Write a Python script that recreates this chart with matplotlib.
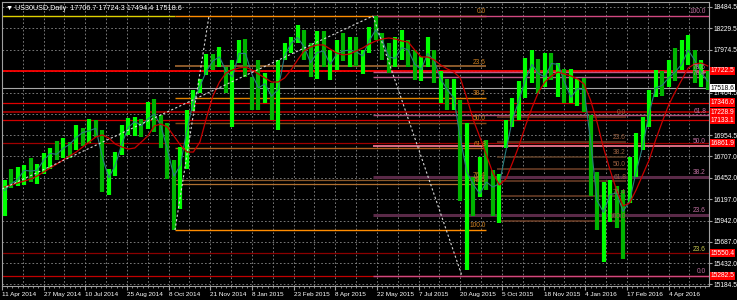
"""US30USD daily chart, MT4 style: weekly bars, two MAs, fib levels and price lines."""
import numpy as np
import matplotlib
matplotlib.use("Agg")
import matplotlib.pyplot as plt
from matplotlib.transforms import blended_transform_factory

plt.rcParams["font.family"] = ["Liberation Sans", "DejaVu Sans"]

# weekly high / low / close, 11 Apr 2014 .. May 2016
highs = [
    16420, 16560, 16580, 16600, 16680, 16620, 16740, 16800, 16890, 16920,
    16880, 17080, 17040, 17150, 17140, 17020, 16560, 16760, 17080, 17160,
    17170, 17150, 17350, 17390, 17200, 17100, 16660, 16820, 17260, 17500,
    17620, 17920, 17920, 18010, 17770, 17850, 18090, 18100, 17650, 17850,
    17700, 17580, 17850, 18050, 18130, 18270, 18210, 18050, 18200, 18200,
    17970, 18090, 18170, 18130, 18130, 17970, 18240, 18376, 18170, 18050,
    18130, 18210, 18090, 17970, 17890, 18130, 17970, 17720, 17620, 17620,
    17380, 17100, 16460, 16700, 16900, 16540, 16500, 17140, 17400, 17600,
    17870, 17970, 17860, 17930, 17930, 17820, 17740, 17740, 17620, 17640,
    17200, 16520, 16400, 16420, 16350, 16300, 16700, 16980, 17170, 17500,
    17730, 17720, 17850, 17990, 18090, 18150, 17970, 17850, 17724.3,
]
lows = [
    15990, 16330, 16350, 16360, 16400, 16380, 16500, 16560, 16660, 16690,
    16680, 16780, 16830, 16860, 16930, 16280, 16240, 16470, 16720, 16960,
    16950, 16930, 17030, 17000, 16800, 16440, 15830, 16080, 16560, 17240,
    17460, 17670, 17730, 17770, 17460, 17050, 17820, 17650, 17260, 17260,
    17340, 17140, 17020, 17850, 17940, 18060, 17850, 17650, 17620, 17770,
    17610, 17730, 17840, 17770, 17780, 17690, 17930, 18090, 17850, 17700,
    17770, 17850, 17770, 17610, 17600, 17770, 17580, 17340, 17260, 17260,
    16180, 15350, 15990, 16220, 16300, 15990, 15910, 16800, 17050, 17140,
    17400, 17580, 17460, 17530, 17610, 17410, 17340, 17340, 17310, 17230,
    16230, 15830, 15450, 15930, 15850, 15480, 16150, 16460, 16780, 17050,
    17410, 17420, 17530, 17600, 17730, 17790, 17580, 17530, 17494.4,
]
closes = [
    16400, 16360, 16510, 16580, 16480, 16600, 16720, 16760, 16700, 16900,
    16800, 17060, 16930, 17100, 16980, 16400, 16500, 16700, 17000, 17100,
    17140, 17000, 17300, 17120, 17020, 16550, 16390, 16800, 17250, 17480,
    17600, 17850, 17830, 17950, 17500, 17800, 18060, 17800, 17550, 17500,
    17650, 17200, 17800, 18000, 18100, 18150, 17880, 17760, 18120, 17800,
    17800, 18050, 17880, 18060, 17850, 17950, 18220, 18200, 17980, 17800,
    17950, 18050, 17900, 17700, 17780, 18080, 17600, 17650, 17350, 17450,
    16400, 16640, 16100, 16430, 16380, 16300, 16470, 17080, 17200, 17550,
    17700, 17900, 17480, 17830, 17800, 17800, 17380, 17450, 17580, 17420,
    16380, 15980, 16100, 16400, 16150, 15950, 16400, 16650, 17000, 17450,
    17600, 17500, 17780, 17650, 17950, 18000, 17700, 17700, 17518.6,
]
ma_fast = [
    16300, 16380, 16430, 16540, 16530, 16540, 16660, 16740, 16730, 16800,
    16850, 16930, 16990, 17010, 17040, 16700, 16450, 16600, 16850, 17050,
    17120, 17070, 17150, 17210, 17070, 16790, 16470, 16600, 17020, 17360,
    17540, 17720, 17840, 17890, 17720, 17650, 17930, 17930, 17680, 17520,
    17570, 17420, 17500, 17900, 18050, 18120, 18010, 17820, 17940, 17960,
    17800, 17920, 17960, 17970, 17950, 17900, 18080, 18210, 18090, 17890,
    17870, 18000, 17970, 17800, 17740, 17930, 17840, 17620, 17500, 17400,
    16920, 16520, 16370, 16260, 16400, 16340, 16380, 16770, 17140, 17370,
    17620, 17800, 17690, 17650, 17810, 17800, 17590, 17410, 17510, 17500,
    16900, 16180, 16040, 16250, 16270, 16050, 16170, 16520, 16820, 17220,
    17520, 17550, 17640, 17710, 17800, 17970, 17850, 17700, 17600,
]
ma_slow = [
    16341, 16365, 16388, 16412, 16436, 16472, 16519, 16567, 16614, 16662,
    16710, 16757, 16817, 16876, 16936, 16960, 16924, 16852, 16817, 16793,
    16805, 16876, 16948, 17067, 17090, 17055, 16948, 16840, 16757, 16757,
    16876, 17162, 17424, 17590, 17697, 17733, 17757, 17769, 17733, 17685,
    17638, 17590, 17590, 17638, 17733, 17852, 17959, 18007, 18031, 18031,
    17983, 17935, 17912, 17923, 17959, 17995, 18042, 18078, 18102, 18114,
    18102, 18078, 18066, 17971, 17888, 17888, 17852, 17792, 17745, 17709,
    17638, 17400, 17138, 16936, 16722, 16507, 16365, 16436, 16626, 16829,
    17067, 17281, 17471, 17590, 17662, 17709, 17685, 17662, 17626, 17566,
    17376, 17114, 16805, 16543, 16305, 16115, 16150, 16305, 16483, 16662,
    16900, 17114, 17316, 17471, 17614, 17757, 17804, 17816, 17781,
]

date_labels = [
    "11 Apr 2014", "27 May 2014", "10 Jul 2014", "25 Aug 2014", "8 Oct 2014",
    "21 Nov 2014", "8 Jan 2015", "23 Feb 2015", "8 Apr 2015", "22 May 2015",
    "7 Jul 2015", "20 Aug 2015", "5 Oct 2015", "18 Nov 2015", "4 Jan 2016",
    "17 Feb 2016", "4 Apr 2016",
]
price_ticks = [18484.5, 18229.5, 17974.5, 17719.5, 17464.5, 17209.5, 16954.5,
               16707.0, 16452.0, 16197.0, 15942.0, 15687.0, 15432.0, 15184.5]
# grid values whose labels sit under a price box in the reference
hidden_ticks = [17719.5, 17209.5]

# horizontal price lines (value, colour, width)
hlines = [(17722.5, "#ff0000", 1.3), (17346.0, "#e00000", 0.9),
          (17228.9, "#a00000", 1.3), (17133.1, "#d00000", 0.9),
          (16861.9, "#a00000", 0.9), (15550.4, "#8a0000", 0.9),
          (15282.5, "#c00000", 0.9)]

fib_levels = [0.0, 23.6, 38.2, 50.0, 61.8, 76.4, 78.6, 100.0]

PX_PER_BAR = 1.302
FS = 4.8


def px_to_bar(px):
    return (px - 2) / PX_PER_BAR


def draw_fib(ax, x0, x1, p0, p100, levels, colors, widths, txt_color, x_txt):
    for lev, c, w in zip(levels, colors, widths):
        p = p0 + (p100 - p0) * lev / 100.0
        ax.hlines(p, x0, x1, color=c, linewidth=w, zorder=2)
        ax.text(x_txt, p + 8, f"{lev:.1f}", color=txt_color, fontsize=FS,
                ha="right", va="bottom", zorder=6)


fig = plt.figure(figsize=(7.37, 3.0), dpi=100, facecolor="black")
ax = fig.add_axes([2 / 737, 14 / 300, 707 / 737, 284 / 300], facecolor="black")
ax.set_xlim(0, 543)
ax.set_ylim(15163, 18542)

# grid
for gx in np.arange(16, 543, 16):
    ax.axvline(gx, color="#8a8a8a", linewidth=0.6, linestyle=(0, (2, 2.5)), zorder=0)
for gy in price_ticks:
    ax.axhline(gy, color="#8a8a8a", linewidth=0.6, linestyle=(0, (2, 2.5)), zorder=0)

# horizontal lines
for val, col, lw in hlines:
    ax.axhline(val, color=col, linewidth=lw, zorder=2)
ax.axhline(closes[-1], color="#a8a8a8", linewidth=0.8, zorder=2)
ax.hlines(18376, 0, px_to_bar(175), color="#e0d000", linewidth=1.0, zorder=2)

# fib 1: Oct 2014 low -> May 2015 high (orange)
draw_fib(ax, px_to_bar(175), px_to_bar(486), 18376, 15829, fib_levels,
         ["#ff8c00", "#8b5a2b", "#e08000", "#8b4513", "#b06020",
          "#8b5a2b", "#b07030", "#ff8c00"],
         [1.0, 1.4, 1.0, 1.0, 1.0, 0.9, 0.9, 1.0],
         "#d08020", px_to_bar(486))

# fib 2: May 2015 high -> Aug 2015 low (pink)
draw_fib(ax, px_to_bar(373), 543, 15282.5, 18376, fib_levels,
         ["#d04880", "#5a2a48", "#5a2a48", "#ff8098", "#b05078",
          "#c05888", "#c05888", "#d04880"],
         [1.0, 2.2, 2.2, 1.2, 1.0, 1.0, 1.0, 1.0],
         "#c070a0", px_to_bar(706))

# fib 3: small brown set
draw_fib(ax, px_to_bar(497), px_to_bar(626), 17174, 15936,
         [0.0, 23.6, 38.2, 50.0, 61.8, 76.4, 100.0],
         ["#6b3020", "#704028", "#604028", "#704028", "#704028",
          "#704028", "#704028"],
         [1.2, 1.1, 1.1, 1.1, 1.1, 1.1, 1.1],
         "#9a6040", px_to_bar(626))
ax.text(px_to_bar(706), 15550.4 + 8, "23.6", color="#c8c850", fontsize=FS,
        ha="right", va="bottom", zorder=6)

# weekly price bars
bar_x = np.arange(len(closes)) * 5 + 2
prev = np.r_[closes[0], closes[:-1]]
up = np.array(closes) >= prev
ax.vlines(bar_x[up], np.array(lows)[up], np.array(highs)[up],
          color="#00ff00", linewidth=3.0, zorder=3)
ax.vlines(bar_x[~up], np.array(lows)[~up], np.array(highs)[~up],
          color="#00b400", linewidth=3.0, zorder=3)

# moving averages
ax.plot(bar_x, ma_fast, color="#2a8080", linewidth=0.8, zorder=4)
ax.plot(bar_x, ma_slow, color="#c80000", linewidth=0.9, zorder=4)

# fib anchor trend lines
dots = dict(color="#d8d8d8", linewidth=0.8, linestyle=(0, (2, 2)), zorder=5)
ax.plot([0, px_to_bar(373)], [16317, 18376], **dots)
ax.plot([px_to_bar(175), px_to_bar(209)], [15829, 18376], **dots)
ax.plot([px_to_bar(373), px_to_bar(462)], [18376, 15282.5], **dots)

# axes styling
for side in ("left", "top", "right", "bottom"):
    ax.spines[side].set_color("#a0a0a0")
    ax.spines[side].set_linewidth(0.8)
ax.yaxis.tick_right()
ax.set_yticks(price_ticks)
ax.set_yticklabels(["" if v in hidden_ticks else f"{v:.1f}" for v in price_ticks])
ax.tick_params(axis="y", colors="#a0a0a0", labelcolor="white", labelsize=FS,
               length=2, pad=1)
ax.set_xticks(np.arange(len(date_labels)) * 32)
ax.set_xticklabels(date_labels, ha="left")
ax.set_xticks(np.arange(0, 543, 4), minor=True)
ax.tick_params(axis="x", colors="#a0a0a0", labelcolor="white", labelsize=4.6,
               length=3, pad=1.5)
ax.tick_params(axis="x", which="minor", colors="#a0a0a0", length=1.5)

# right-hand price boxes
tr = blended_transform_factory(ax.transAxes, ax.transData)
for val, col, lw in hlines:
    ax.text(1.002, val, f"{val:.1f}", transform=tr, color="white", fontsize=FS,
            va="center", ha="left", clip_on=False, zorder=10,
            bbox=dict(facecolor="#ff0000", edgecolor="none", pad=0.4))
ax.text(1.002, closes[-1], f"{closes[-1]:.1f}", transform=tr, color="black",
        fontsize=FS, va="center", ha="left", clip_on=False, zorder=10,
        bbox=dict(facecolor="white", edgecolor="none", pad=0.4))

ax.text(0.006, 0.99, "\u25bc US30USD,Daily  17706.7 17724.3 17494.4 17518.6",
        transform=ax.transAxes, color="white", fontsize=5.2, va="top",
        ha="left", zorder=10)

fig.savefig("out.png", dpi=100, facecolor="black")
